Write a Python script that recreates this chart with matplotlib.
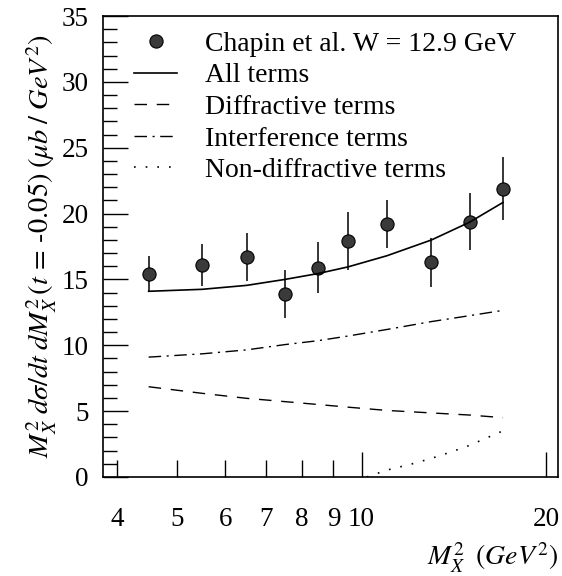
import numpy as np
import matplotlib
matplotlib.use("Agg")
import matplotlib.pyplot as plt
from matplotlib.ticker import FixedLocator, FixedFormatter

plt.rcParams['font.family'] = ['Liberation Serif', 'DejaVu Serif']
plt.rcParams['mathtext.fontset'] = 'stix'

# Chapin et al. data, W = 12.9 GeV
mx2_data = [4.5, 5.5, 6.5, 7.5, 8.5, 9.5, 11.0, 13.0, 15.0, 17.0]
xs_data = [15.4, 16.1, 16.7, 13.9, 15.9, 17.9, 19.2, 16.3, 19.4, 21.9]
xs_err = [1.35, 1.6, 1.8, 1.8, 1.95, 2.2, 1.8, 1.85, 2.15, 2.4]

# model curves
mx2_model = [4.5, 5.5, 6.5, 7.5, 8.5, 9.5, 11.0, 13.0, 15.0, 17.0]
all_terms = [14.1, 14.25, 14.55, 15.0, 15.45, 15.95, 16.8, 18.0, 19.35, 20.85]
diffractive = [6.85, 6.35, 5.97, 5.72, 5.5, 5.3, 5.05, 4.86, 4.7, 4.5]
interference = [9.1, 9.35, 9.65, 10.05, 10.35, 10.7, 11.2, 11.8, 12.25, 12.65]
mx2_nondiff = [10.2, 11.0, 12.0, 13.0, 14.0, 15.0, 16.0, 17.0]
nondiffractive = [0.0, 0.52, 0.95, 1.41, 1.9, 2.4, 2.97, 3.5]

fig = plt.figure(figsize=(5.62, 5.76), dpi=100)
ax = fig.add_axes([0.183, 0.172, 0.810, 0.800])

ax.errorbar(mx2_data, xs_data, yerr=xs_err, fmt='none', ecolor='black', elinewidth=1.1, capsize=0)
ax.plot(mx2_data, xs_data, 'o', ms=9.5, mfc='#3a3a3a', mec='black', mew=0.8,
        label='Chapin et al. W = 12.9 GeV')
ax.plot(mx2_model, all_terms, '-', color='black', lw=1.2, label='All terms')
ax.plot(mx2_model, diffractive, color='black', lw=1.0, dashes=(9, 7), label='Diffractive terms')
ax.plot(mx2_model, interference, color='black', lw=1.0, dashes=(9, 4, 1.5, 4), label='Interference terms')
ax.plot(mx2_nondiff, nondiffractive, color='black', lw=1.2, dashes=(1, 6), label='Non-diffractive terms')

ax.set_xscale('log')
ax.set_xlim(3.79, 20.9)
ax.set_ylim(0, 35)

ax.xaxis.set_major_locator(FixedLocator([10, 20]))
ax.xaxis.set_major_formatter(FixedFormatter(['10', '20']))
ax.xaxis.set_minor_locator(FixedLocator([4, 5, 6, 7, 8, 9]))
ax.xaxis.set_minor_formatter(FixedFormatter(['4', '5', '6', '7', '8', '9']))
ax.set_yticks(np.arange(0, 36, 5))
ax.yaxis.set_minor_locator(FixedLocator(np.arange(0, 36, 1)))

ax.tick_params(axis='both', which='both', direction='in', labelsize=19.5, width=1.0)
ax.tick_params(axis='x', which='major', length=18, pad=22)
ax.tick_params(axis='x', which='minor', length=12, pad=22)
ax.tick_params(axis='y', which='major', length=18, pad=10)
ax.tick_params(axis='y', which='minor', length=10)
for sp in ax.spines.values():
    sp.set_linewidth(1.2)

ax.set_ylabel(r'$M_X^2\; d\sigma/dt\; dM_X^2\, (t\,=\,\text{-}0.05)\; (\mu b\; /\; GeV^2)$', fontsize=20.5, labelpad=2)
ax.set_xlabel(r'$M_X^2\;\; (GeV^2)$', fontsize=20, loc='right', labelpad=6)

ax.legend(loc='upper left', bbox_to_anchor=(0.035, 1.0), frameon=False, fontsize=20,
          handlelength=1.55, handletextpad=1.0, labelspacing=0.22, borderaxespad=0.15)

fig.savefig('out.png', dpi=100)
